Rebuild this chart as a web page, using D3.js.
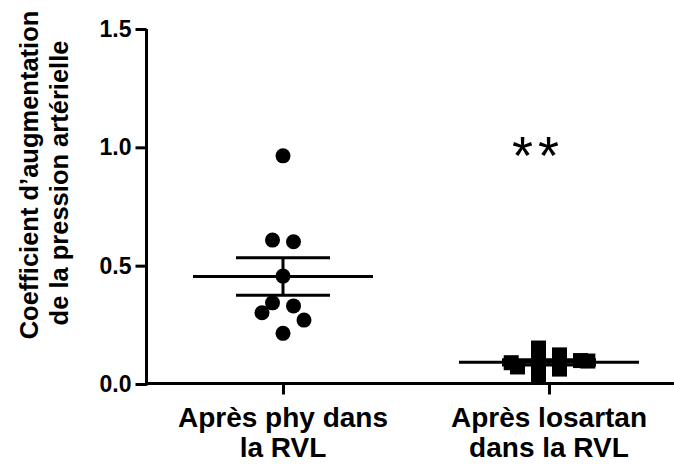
<!DOCTYPE html>
<html>
<head>
<meta charset="utf-8">
<script src="https://cdn.jsdelivr.net/npm/d3@7"></script>
<style>
  html, body { margin: 0; padding: 0; background: #fff; }
  svg { display: block; }
  text { font-family: "Liberation Sans", Arial, sans-serif; fill: #000; }
</style>
</head>
<body>
<svg id="chart" width="674" height="464"></svg>
<script>
// Groups and individual measurements
const categories = ["Après phy dans la RVL", "Après losartan dans la RVL"];
const categoryLines = [["Après phy dans", "la RVL"], ["Après losartan", "dans la RVL"]];
const physValues = [0.964, 0.608, 0.601, 0.456, 0.343, 0.330, 0.301, 0.270, 0.214];
const physSlots  = [0, -1, 1, 0, -1, 1, -2, 2, 0];
const losartanValues = [0.152, 0.123, 0.063, 0.099, 0.097, 0.090, 0.072, 0.093, 0.034];
const losartanSlots  = [-1, 1, 1, 3, 3.7, -3.6, -3, -1, -1];
const yTicks = [0.0, 0.5, 1.0, 1.5];
const yTitle = ["Coefficient d’augmentation", "de la pression artérielle"];
const significance = "**";

const svg = d3.select("#chart");

const y = d3.scaleLinear().domain([0, 1.5]).range([384, 29]);
const x = d3.scalePoint().domain(categories).range([283, 549]);
const slotWidth = 10.5;

const groups = [
  { cat: categories[0], values: physValues, slots: physSlots, shape: "circle" },
  { cat: categories[1], values: losartanValues, slots: losartanSlots, shape: "square" }
];

// Y axis
const yAxis = svg.append("g")
  .attr("transform", "translate(146.5,0)")
  .call(d3.axisLeft(y).tickValues(yTicks).tickFormat(d3.format(".1f")).tickSize(11).tickSizeOuter(0).tickPadding(4));
yAxis.selectAll("path, line").attr("stroke", "#000").attr("stroke-width", 3);
yAxis.select(".domain").attr("d", `M0,${y(1.5)}V${y(0) + 1.5}`);
yAxis.selectAll("text")
  .style("font-family", "'Liberation Sans', Arial, sans-serif")
  .style("font-weight", "bold")
  .style("font-size", "23px")
  .attr("fill", "#000");

// X axis: baseline spans the full width, ticks at group centres
svg.append("line")
  .attr("x1", 145).attr("x2", 674)
  .attr("y1", y(0) - 0.5).attr("y2", y(0) - 0.5)
  .attr("stroke", "#000").attr("stroke-width", 3);

const xAxis = svg.append("g")
  .attr("transform", `translate(0,${y(0) - 0.5})`)
  .call(d3.axisBottom(x).tickSize(11).tickSizeOuter(0).tickFormat(""));
xAxis.select(".domain").remove();
xAxis.selectAll("line").attr("stroke", "#000").attr("stroke-width", 3);

// Category labels, two lines each
categories.forEach((c, i) => {
  const t = svg.append("text")
    .attr("text-anchor", "middle")
    .attr("font-weight", "bold")
    .attr("font-size", 28);
  categoryLines[i].forEach((ln, j) => {
    t.append("tspan").attr("x", x(c)).attr("y", 426.5 + j * 30).text(ln);
  });
});

// Y axis title
yTitle.forEach((ln, j) => {
  svg.append("text")
    .attr("transform", `translate(${37.5 + j * 30.5},${175 + j * 8}) rotate(-90)`)
    .attr("text-anchor", "middle")
    .attr("font-weight", "bold")
    .attr("font-size", 25.5)
    .text(ln);
});

// Mean ± SEM and individual points
groups.forEach(g => {
  const cx = x(g.cat);
  const n = g.values.length;
  const mean = d3.mean(g.values);
  const sem = d3.deviation(g.values) / Math.sqrt(n);

  const gg = svg.append("g");

  gg.selectAll(".pt")
    .data(g.values.map((v, i) => ({ v, s: g.slots[i] })))
    .join(g.shape === "circle" ? "circle" : "rect")
    .each(function(d) {
      const px = cx + d.s * slotWidth, py = y(d.v);
      const el = d3.select(this).attr("fill", "#000");
      if (g.shape === "circle") el.attr("cx", px).attr("cy", py).attr("r", 7.5);
      else el.attr("x", px - 7.5).attr("y", py - 7.5).attr("width", 15).attr("height", 15);
    });

  const line = (x1, x2, y1, y2) => gg.append("line")
    .attr("x1", x1).attr("x2", x2).attr("y1", y1).attr("y2", y2)
    .attr("stroke", "#000").attr("stroke-width", 3);

  line(cx - 90, cx + 90, y(mean), y(mean));
  line(cx, cx, y(mean + sem), y(mean - sem));
  line(cx - 47, cx + 47, y(mean + sem), y(mean + sem));
  line(cx - 47, cx + 47, y(mean - sem), y(mean - sem));
});

// Significance marker
svg.append("text")
  .attr("x", x(categories[1]) - 11)
  .attr("y", 174)
  .attr("text-anchor", "middle")
  .attr("font-size", 54)
  .attr("letter-spacing", 5)
  .text(significance);
</script>
</body>
</html>
